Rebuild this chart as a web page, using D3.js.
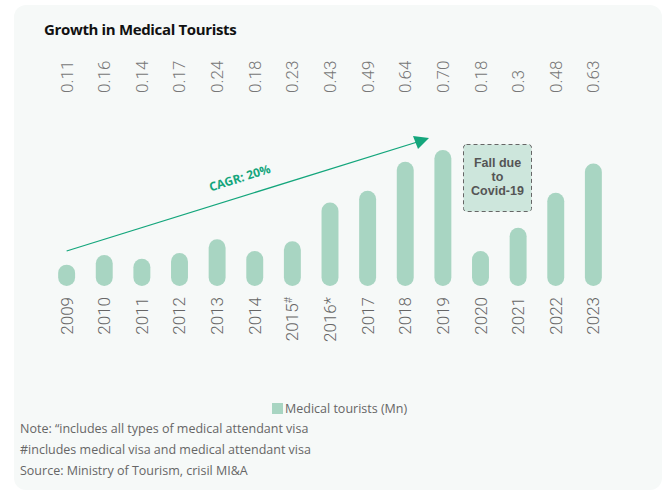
<!DOCTYPE html>
<html>
<head>
<meta charset="utf-8">
<script src="https://cdn.jsdelivr.net/npm/d3@7"></script>
<style>
  body { margin: 0; background: #fff; }
  svg text { font-family: "Open Sans", "Noto Sans", sans-serif; }
</style>
</head>
<body>
<svg id="chart" width="671" height="491"></svg>
<script>
var years = ["2009", "2010", "2011", "2012", "2013", "2014", "2015#", "2016*",
             "2017", "2018", "2019", "2020", "2021", "2022", "2023"];
var tourists = [0.11, 0.16, 0.14, 0.17, 0.24, 0.18, 0.23, 0.43,
                0.49, 0.64, 0.70, 0.18, 0.3, 0.48, 0.63];
var valueLabels = ["0.11", "0.16", "0.14", "0.17", "0.24", "0.18", "0.23", "0.43",
                   "0.49", "0.64", "0.70", "0.18", "0.3", "0.48", "0.63"];
var notes = [
    "Note: \u201cincludes all types of medical attendant visa",
    "#includes medical visa and medical attendant visa",
    "Source: Ministry of Tourism, crisil MI&A"
];

var svg = d3.select("#chart");

// panel
svg.append("rect")
    .attr("x", 14).attr("y", 5).attr("width", 648).attr("height", 485)
    .attr("rx", 12).attr("fill", "#f6f9f8");

svg.append("text")
    .attr("x", 44).attr("y", 35)
    .attr("font-size", 15).attr("font-weight", 700)
    .attr("fill", "#111")
    .style("letter-spacing", "-0.35px")
    .text("Growth in Medical Tourists");

var x = d3.scaleBand()
    .domain(years)
    .range([48, 612])
    .paddingInner(0.55)
    .paddingOuter(0.27);

var y = d3.scaleLinear()
    .domain([0, 0.7])
    .range([286, 150]);

var barW = x.bandwidth();

svg.selectAll("rect.bar")
    .data(tourists)
    .enter()
    .append("rect")
    .attr("class", "bar")
    .attr("x", function (d, i) { return x(years[i]); })
    .attr("y", function (d) { return y(d); })
    .attr("width", barW)
    .attr("height", function (d) { return y(0) - y(d); })
    .attr("rx", barW / 2)
    .attr("fill", "#a8d5c2");

// value labels on top row
svg.selectAll("text.val")
    .data(valueLabels)
    .enter()
    .append("text")
    .attr("class", "val")
    .attr("transform", function (d, i) {
        return "translate(" + (x(years[i]) + barW / 2 + 6) + ",93) rotate(-90)";
    })
    .attr("font-size", 17).attr("font-weight", 300)
    .style("font-family", "Roboto, sans-serif")
    .attr("fill", "#777")
    .text(function (d) { return d; });

// year labels, with the # mark raised
var yearText = svg.selectAll("text.year")
    .data(years)
    .enter()
    .append("text")
    .attr("class", "year")
    .attr("transform", function (d) {
        return "translate(" + (x(d) + barW / 2 + 6) + ",297) rotate(-90)";
    })
    .attr("text-anchor", "end")
    .attr("font-size", 17).attr("font-weight", 300)
    .style("font-family", "Roboto, sans-serif")
    .attr("fill", "#666");
yearText.append("tspan")
    .text(function (d) { return d.slice(0, 4); });
yearText.filter(function (d) { return d.slice(4) == "#"; })
    .append("tspan")
    .attr("dy", -6)
    .attr("font-size", 11)
    .text("#");
yearText.filter(function (d) { return d.slice(4) == "*"; })
    .append("tspan")
    .text("*");

// CAGR arrow
var green = "#14a67c";
var x0 = x("2009") + barW / 2, y0 = 251;
var x1 = 429, y1 = 138;
svg.append("line")
    .attr("x1", x0).attr("y1", y0).attr("x2", x1 - 2).attr("y2", y1 + 1)
    .attr("stroke", green).attr("stroke-width", 1.3);
svg.append("path")
    .attr("d", "M" + (x1 - 16) + "," + (y1 - 2) + " L" + x1 + "," + y1 + " L" + (x1 - 11) + "," + (y1 + 11) + " Z")
    .attr("fill", green);

var ang = Math.atan2(y1 - y0, x1 - x0) * 180 / Math.PI;
svg.append("text")
    .attr("transform", "translate(241,182) rotate(" + ang + ")")
    .attr("text-anchor", "middle")
    .attr("font-size", 12).attr("font-weight", 700)
    .attr("fill", green)
    .text("CAGR: 20%");

// covid callout
svg.append("rect")
    .attr("x", 463.5).attr("y", 144.5).attr("width", 68).attr("height", 67)
    .attr("rx", 3)
    .attr("fill", "#cde6dc")
    .attr("stroke", "#666").attr("stroke-width", 1)
    .attr("stroke-dasharray", "4,3");
svg.selectAll("text.covid")
    .data(["Fall due", "to", "Covid-19"])
    .enter()
    .append("text")
    .attr("class", "covid")
    .attr("x", 497.5)
    .attr("y", function (d, i) { return 167 + i * 14; })
    .attr("text-anchor", "middle")
    .attr("font-size", 12.5).attr("font-weight", 700)
    .style("font-family", "'Liberation Sans', sans-serif")
    .attr("fill", "#555")
    .text(function (d) { return d; });

// legend
svg.append("rect")
    .attr("x", 272).attr("y", 403).attr("width", 11).attr("height", 11)
    .attr("fill", "#a8d5c2");
svg.append("text")
    .attr("x", 285).attr("y", 413)
    .attr("font-size", 12.5).attr("fill", "#666")
    .text("Medical tourists (Mn)");

// notes
svg.selectAll("text.note")
    .data(notes)
    .enter()
    .append("text")
    .attr("class", "note")
    .attr("x", 20)
    .attr("y", function (d, i) { return 433 + i * 21; })
    .attr("font-size", 12.5).attr("fill", "#666")
    .text(function (d) { return d; });
</script>
</body>
</html>
